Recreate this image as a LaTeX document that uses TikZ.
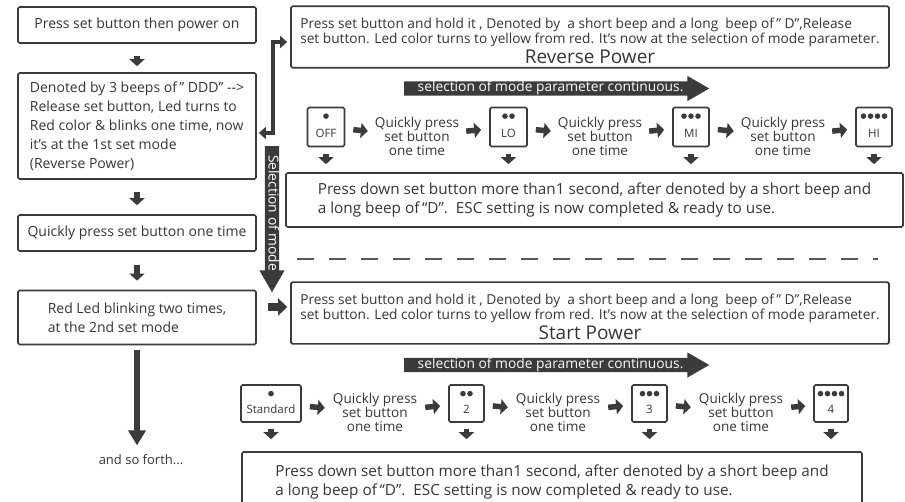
\documentclass[tikz,border=0pt]{standalone}
\usepackage{fontspec}
\setmainfont{Open Sans}
\usetikzlibrary{arrows.meta,shapes.arrows,calc}
\definecolor{inkgray}{HTML}{3B3B3B}
\definecolor{txtgray}{HTML}{363636}
\newcommand{\sz}[2]{\fontsize{#1}{#2}\selectfont}
\newcommand{\lowlbl}[1]{\raisebox{-6pt}[\height][\depth]{#1}}
\newcommand{\leds}[2]{\foreach \k in {1,...,#2}{\fill[inkgray] ($(#1.north)+({(\k-(#2+1)/2)*7},9.5)$) circle (2.8pt);}}

\begin{document}
\begin{tikzpicture}[x=1pt,y=-1pt,inkgray,text=txtgray,
  box/.style={draw=inkgray,line width=1.7pt,rounded corners=1.5pt,fill=white,inner sep=0pt},
  modebox/.style={box,minimum height=39,font=\sz{11.5}{12}},
  quick/.style={align=center,inner sep=0pt,font=\sz{13.6}{13.5}},
  bigarr/.style={single arrow,fill=inkgray,text=white,single arrow head extend=5.5pt,
    single arrow head indent=0pt,single arrow tip angle=60,inner xsep=4pt,inner ysep=0pt,
    text height=10.3pt,text depth=3.4pt,font=\sz{13.8}{14}},
  smallarr/.style={line width=5.5pt,-{Triangle[width=15pt,length=7pt]}},
  fatarr/.style={line width=8pt,-{Triangle[width=17pt,length=9pt]}},
  longarr/.style={line width=6pt,-{Triangle[width=17pt,length=15pt]}},
  brkarr/.style={line width=4.5pt,{Triangle[width=12pt,length=7pt]}-{Triangle[width=12pt,length=7pt]}},
  infobox/.style={box,minimum width=598,minimum height=60,font=\sz{13.7}{15.6}},
  escbox/.style={box,align=left,font=\sz{15.3}{19}}]
\clip (0,0) rectangle (905,502);
\fill[white] (0,0) rectangle (905,502);

% left column
\node[box,minimum width=238,minimum height=36,font=\sz{14}{19}] (b1) at (137,25) {Press set button then power on};
\node[box,minimum width=238,minimum height=106,align=left,font=\sz{14}{19}] (b2) at (137,126)
  {Denoted by 3 beeps of\,” DDD” -{}->\\Release set button, Led turns to\\Red color \& blinks one time, now\\it’s at the 1st set mode\\(Reverse Power)};
\node[box,minimum width=238,minimum height=36,font=\sz{14}{19}] (b3) at (137,233) {Quickly press set button one time};
\node[box,minimum width=238,minimum height=54,align=left,font=\sz{14}{19}] (b4) at (137,317.5)
  {Red Led blinking two times,\\at the 2nd set mode};
\node[font=\sz{13}{19}] (forth) at (141,460) {and so forth...};

\draw[smallarr,shorten <=12pt,shorten >=6pt] (b1) -- (b2);
\draw[smallarr,shorten <=12pt,shorten >=9pt] (b2) -- (b3);
\draw[smallarr,shorten <=13pt,shorten >=9pt] (b3) -- (b4);
\draw[longarr,shorten <=5pt,shorten >=6pt] (b4.south) -- (b4.south |- forth.north);

% reverse power
\node[infobox] (rev) at (590,37)
  {\begin{tabular}{@{}l@{}}\rule{0pt}{22pt}Press set button and hold it , Denoted by\ \ a short beep and a long\ \ beep of\,” D”,Release\\
   set button. Led color turns to yellow from red. It’s now at the selection of mode parameter.\\[1pt]
   \multicolumn{1}{@{}c@{}}{\sz{19}{19}Reverse Power}\end{tabular}};
\draw[brkarr] ([shift={(2,7)}]b2.east) -- ++(14,0) |- ([shift={(-3,5)}]rev.west);
\node[bigarr,minimum height=305,anchor=west] (par1) at (404,88.5) {selection of mode parameter continuous.};

\node[modebox,minimum width=37] (m1) at (326,127) {\lowlbl{OFF}};
\node[modebox,minimum width=37] (m2) at (508.5,127) {\lowlbl{LO}};
\node[modebox,minimum width=36] (m3) at (691,127) {\lowlbl{MI}};
\node[modebox,minimum width=36] (m4) at (874,127) {\lowlbl{HI}};
\leds{m1}{1} \leds{m2}{2} \leds{m3}{3} \leds{m4}{4}
\node[quick] (q1) at (417,136) {Quickly press\\set button\\one time};
\node[quick] (q2) at (600,136) {Quickly press\\set button\\one time};
\node[quick] (q3) at (783,136) {Quickly press\\set button\\one time};
\draw[smallarr,shorten <=8pt,shorten >=7pt] (m1) -- (q1);
\draw[smallarr,shorten <=7pt,shorten >=8pt] (q1) -- (m2);
\draw[smallarr,shorten <=8pt,shorten >=7pt] (m2) -- (q2);
\draw[smallarr,shorten <=7pt,shorten >=8pt] (q2) -- (m3);
\draw[smallarr,shorten <=8pt,shorten >=7pt] (m3) -- (q3);
\draw[smallarr,shorten <=7pt,shorten >=8pt] (q3) -- (m4);

\node[escbox,minimum width=617,minimum height=54] (esc1) at (594.5,200)
  {Press down set button more than1 second, after denoted by a short beep and\\a long beep of\,“D”.\ \ ESC setting is now completed \& ready to use.};
\foreach \m in {m1,m2,m3,m4}
  \draw[smallarr,shorten <=7pt,shorten >=8pt] (\m.south) -- (\m.south |- esc1.north);

% selection of mode and divider
\node[bigarr,rotate=-90,minimum height=146,anchor=west] (selm) at (272,146) {Selection of mode};
\coordinate (d1) at (297,259);
\coordinate (d2) at (878,259);
\draw[inkgray!85,line width=1.3pt,dash pattern=on 17pt off 15pt] (d1) -- (d2);

% start power
\node[infobox] (start) at (590,313)
  {\begin{tabular}{@{}l@{}}\rule{0pt}{22pt}Press set button and hold it , Denoted by\ \ a short beep and a long\ \ beep of\,” D”,Release\\
   set button. Led color turns to yellow from red. It’s now at the selection of mode parameter.\\[1pt]
   \multicolumn{1}{@{}c@{}}{\sz{19}{19}Start Power}\end{tabular}};
\coordinate (s0) at ([shift={(-3,-6)}]start.west);
\draw[fatarr,shorten <=11pt] (b4.east |- s0) -- (s0);
\node[bigarr,minimum height=305,anchor=west] (par2) at (404,365) {selection of mode parameter continuous.};

\node[modebox,minimum width=60,minimum height=37] (n1) at (271,403.5) {\lowlbl{Standard}};
\node[modebox,minimum width=35,minimum height=37] (n2) at (466.5,403.5) {\lowlbl{2}};
\node[modebox,minimum width=35,minimum height=37] (n3) at (649.5,403.5) {\lowlbl{3}};
\node[modebox,minimum width=34,minimum height=37] (n4) at (831,403.5) {\lowlbl{4}};
\leds{n1}{1} \leds{n2}{2} \leds{n3}{3} \leds{n4}{4}
\node[quick] (q4) at (375,412) {Quickly press\\set button\\one time};
\node[quick] (q5) at (558,412) {Quickly press\\set button\\one time};
\node[quick] (q6) at (741,412) {Quickly press\\set button\\one time};
\draw[smallarr,shorten <=8pt,shorten >=8pt] (n1) -- (q4);
\draw[smallarr,shorten <=8pt,shorten >=8pt] (q4) -- (n2);
\draw[smallarr,shorten <=8pt,shorten >=8pt] (n2) -- (q5);
\draw[smallarr,shorten <=8pt,shorten >=8pt] (q5) -- (n3);
\draw[smallarr,shorten <=8pt,shorten >=8pt] (n3) -- (q6);
\draw[smallarr,shorten <=8pt,shorten >=8pt] (q6) -- (n4);

\node[escbox,minimum width=620,minimum height=60] (esc2) at (552,482)
  {Press down set button more than1 second, after denoted by a short beep and\\a long beep of\,“D”.\ \ ESC setting is now completed \& ready to use.};
\foreach \m in {n1,n2,n3,n4}
  \draw[smallarr,shorten <=6pt,shorten >=12pt] (\m.south) -- (\m.south |- esc2.north);
\end{tikzpicture}
\end{document}
